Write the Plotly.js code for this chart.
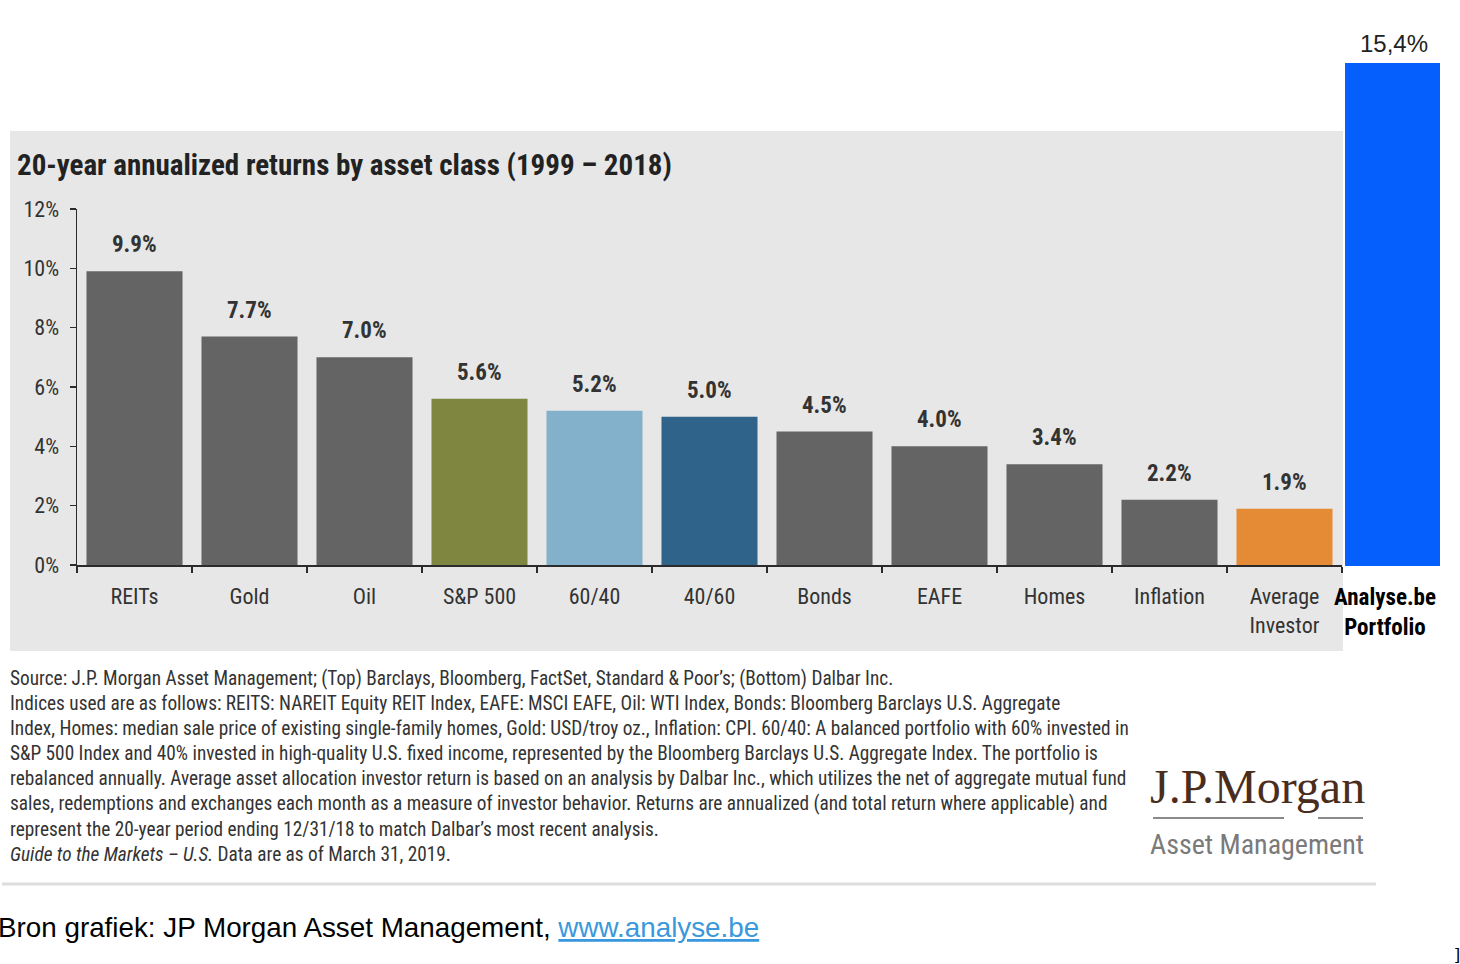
<!DOCTYPE html>
<html>
<head>
<meta charset="utf-8">
<script src="https://cdn.plot.ly/plotly-3.0.1.min.js"></script>
<style>
  html, body { margin: 0; padding: 0; background: #ffffff; }
  #chart { width: 1460px; height: 964px; }
</style>
</head>
<body>
<div id="chart"></div>
<script>
// ---- Data ----
const categories = ["REITs", "Gold", "Oil", "S&P 500", "60/40", "40/60", "Bonds", "EAFE", "Homes", "Inflation", "Average<br>Investor"];
const returns = [9.9, 7.7, 7.0, 5.6, 5.2, 5.0, 4.5, 4.0, 3.4, 2.2, 1.9];
const barColors = ["#646464", "#646464", "#646464", "#7f8640", "#83b0ca", "#30638a", "#646464", "#646464", "#646464", "#646464", "#e58a35"];
const portfolioCategory = ["Analyse.be<br>Portfolio"];
const portfolioReturn = [15.4];
const yTicks = [0, 2, 4, 6, 8, 10, 12];
const yTickLabels = ["0%", "2%", "4%", "6%", "8%", "10%", "12%"];

const chartTitle = "20-year annualized returns by asset class (1999 \u2013 2018)";
const sourceLines = [
  "Source: J.P. Morgan Asset Management; (Top) Barclays, Bloomberg, FactSet, Standard &amp; Poor\u2019s; (Bottom) Dalbar Inc.",
  "Indices used are as follows: REITS: NAREIT Equity REIT Index, EAFE: MSCI EAFE, Oil: WTI Index, Bonds: Bloomberg Barclays U.S. Aggregate",
  "Index, Homes: median sale price of existing single-family homes, Gold: USD/troy oz., Inflation: CPI. 60/40: A balanced portfolio with 60% invested in",
  "S&amp;P 500 Index and 40% invested in high-quality U.S. fixed income, represented by the Bloomberg Barclays U.S. Aggregate Index. The portfolio is",
  "rebalanced annually. Average asset allocation investor return is based on an analysis by Dalbar Inc., which utilizes the net of aggregate mutual fund",
  "sales, redemptions and exchanges each month as a measure of investor behavior. Returns are annualized (and total return where applicable) and",
  "represent the 20-year period ending 12/31/18 to match Dalbar\u2019s most recent analysis.",
  "<i>Guide to the Markets \u2013 U.S.</i> Data are as of March 31, 2019."
];
const bronText = "Bron grafiek: JP Morgan Asset Management, ";
const bronLink = "www.analyse.be";

// ---- Layout helpers ----
const W = 1460, H = 964;
const px = x => x / W;
const py = y => 1 - y / H;
const NARROW = '"Liberation Sans Narrow", "Arial Narrow", "Roboto Condensed", "DejaVu Sans Condensed", sans-serif';
const SANS = '"Liberation Sans", Arial, Helvetica, sans-serif';

const traces = [
  {
    type: "bar",
    x: categories,
    y: returns,
    xaxis: "x",
    yaxis: "y",
    marker: { color: barColors, line: { width: 0 } },
    hoverinfo: "skip"
  },
  {
    type: "bar",
    x: portfolioCategory,
    y: portfolioReturn,
    xaxis: "x2",
    yaxis: "y2",
    width: [0.848],
    offset: [-0.357],
    marker: { color: "#045ffc", line: { width: 0 } },
    hoverinfo: "skip"
  }
];

const annotations = [];
categories.forEach((c, i) => {
  annotations.push({
    xref: "x", yref: "y", x: c, y: returns[i],
    text: "<b>" + returns[i].toFixed(1) + "%</b>",
    showarrow: false, yanchor: "bottom", yshift: 11,
    font: { family: NARROW, size: 23, color: "#333333" }
  });
});
annotations.push({
  xref: "x2", yref: "y2", x: portfolioCategory[0], y: portfolioReturn[0],
  text: portfolioReturn[0].toFixed(1).replace(".", ",") + "%",
  showarrow: false, yanchor: "bottom", yshift: 4, xshift: 9,
  font: { family: SANS, size: 24, color: "#222222" }
});
// Title
annotations.push({
  xref: "paper", yref: "paper", x: px(15), y: py(165),
  xanchor: "left", yanchor: "middle",
  text: "<b>" + chartTitle + "</b>", showarrow: false,
  font: { family: NARROW, size: 29, color: "#222222" }
});
// Source notes
annotations.push({
  xref: "paper", yref: "paper", x: px(8), y: py(665),
  xanchor: "left", yanchor: "top", align: "left",
  text: sourceLines.join("<br>"), showarrow: false,
  font: { family: NARROW, size: 19.3, color: "#333333" }
});
// JPMorgan logo text
annotations.push({
  xref: "paper", yref: "paper", x: px(1257), y: py(786),
  xanchor: "center", yanchor: "middle",
  text: "J.P.Morgan", showarrow: false,
  font: { family: '"Liberation Serif", "DejaVu Serif", serif', size: 48, color: "#4a2d1d" }
});
annotations.push({
  xref: "paper", yref: "paper", x: px(1257), y: py(844),
  xanchor: "center", yanchor: "middle",
  text: "Asset Management", showarrow: false,
  font: { family: NARROW, size: 28, color: "#7a7a7a" }
});
// Bottom source line
annotations.push({
  xref: "paper", yref: "paper", x: px(-4), y: py(927),
  xanchor: "left", yanchor: "middle", align: "left",
  text: bronText + '<span style="color:#3a98dc"><u>' + bronLink + '</u></span>',
  showarrow: false,
  font: { family: SANS, size: 27.8, color: "#000000" }
});
annotations.push({
  xref: "paper", yref: "paper", x: px(1452), y: py(955),
  xanchor: "left", yanchor: "middle",
  text: "]", showarrow: false,
  font: { family: '"DejaVu Serif", serif', size: 16, color: "#000000" }
});

const shapes = [
  { type: "rect", xref: "paper", yref: "paper", layer: "below",
    x0: px(10), x1: px(1343), y0: py(651), y1: py(131),
    fillcolor: "#e7e7e7", line: { width: 0 } },
  { type: "line", xref: "paper", yref: "paper",
    x0: px(2), x1: px(1376), y0: py(884), y1: py(884),
    line: { color: "#dddddd", width: 3 } },
  { type: "line", xref: "paper", yref: "paper",
    x0: px(1153), x1: px(1284), y0: py(818), y1: py(818),
    line: { color: "#8a8a8a", width: 2 } },
  { type: "line", xref: "paper", yref: "paper",
    x0: px(1318), x1: px(1363), y0: py(818), y1: py(818),
    line: { color: "#8a8a8a", width: 2 } }
];

const layout = {
  width: W, height: H,
  margin: { l: 0, r: 0, t: 0, b: 0, pad: 0 },
  paper_bgcolor: "#ffffff",
  plot_bgcolor: "rgba(0,0,0,0)",
  showlegend: false,
  bargap: 0.165,
  xaxis: {
    domain: [px(77), px(1342)],
    type: "category",
    range: [-0.5, categories.length - 0.5],
    anchor: "y",
    showline: true, linecolor: "#2b2b2b", linewidth: 2,
    ticks: "outside", tickson: "boundaries", ticklen: 6, tickcolor: "#2b2b2b", tickwidth: 1.5,
    ticklabelstandoff: 11,
    tickfont: { family: NARROW, size: 22, color: "#333333" },
    showgrid: false, zeroline: false, fixedrange: true
  },
  yaxis: {
    domain: [py(565), py(209)],
    range: [0, 12],
    anchor: "x",
    tickvals: yTicks, ticktext: yTickLabels,
    showline: true, linecolor: "#2b2b2b", linewidth: 1.5,
    ticks: "outside", ticklen: 6, tickcolor: "#2b2b2b", tickwidth: 1.5,
    ticklabelstandoff: 6,
    tickfont: { family: NARROW, size: 22, color: "#333333" },
    showgrid: false, zeroline: false, fixedrange: true
  },
  xaxis2: {
    domain: [px(1329), px(1441)],
    type: "category",
    anchor: "y2",
    showline: false, ticks: "",
    ticklabelstandoff: 15,
    tickfont: { family: NARROW, size: 23, color: "#000000", weight: "bold" },
    showgrid: false, zeroline: false, fixedrange: true
  },
  yaxis2: {
    domain: [py(566), py(63)],
    range: [0, portfolioReturn[0]],
    anchor: "x2",
    visible: false, fixedrange: true
  },
  annotations: annotations,
  shapes: shapes
};

Plotly.newPlot("chart", traces, layout, { displayModeBar: false, staticPlot: true });
</script>
</body>
</html>
